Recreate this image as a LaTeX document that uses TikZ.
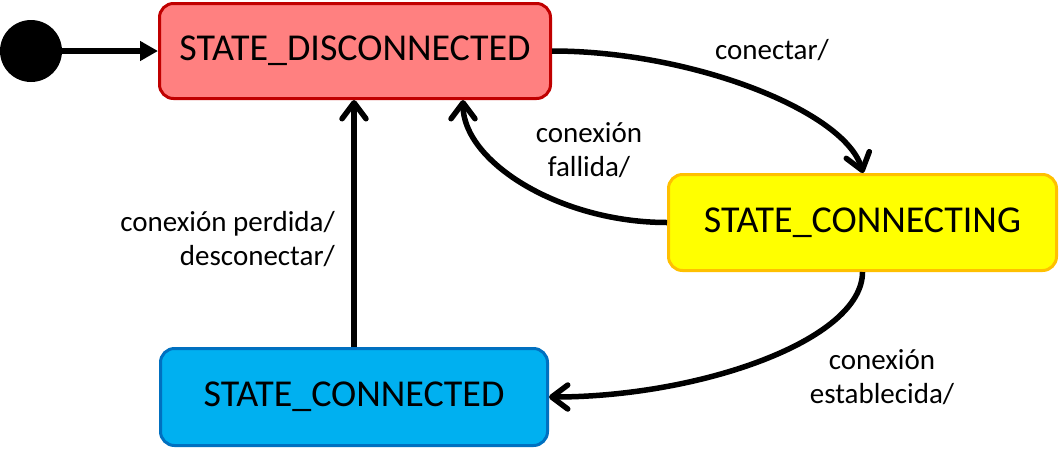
\documentclass[tikz,border=0pt]{standalone}
\usepackage{fontspec}
\setmainfont{Carlito}
\usetikzlibrary{arrows.meta}
\begin{document}
\begin{tikzpicture}[x=1pt,y=-1pt,
  statebox/.style={rectangle, rounded corners=14pt, line width=3pt, inner sep=0pt,
    font=\fontsize{38}{45}\selectfont},
  lbl/.style={font=\fontsize{29}{34}\selectfont, inner sep=0pt},
  trans/.style={line width=5.5pt, -{Straight Barb[length=16pt,width=24pt,round]}},
]
\useasboundingbox (0,0) rectangle (1060,448);
\node[circle, fill=black, minimum size=62pt, inner sep=0pt] (init) at (31,51) {};
\node[statebox, draw={rgb,255:red,192;green,0;blue,0}, fill={rgb,255:red,255;green,128;blue,128},
  minimum width=391pt, minimum height=95pt] (disc) at (355,51) {STATE\_DISCONNECTED};
\node[statebox, draw={rgb,255:red,255;green,192;blue,0}, fill={rgb,255:red,255;green,255;blue,0},
  minimum width=388pt, minimum height=96pt] (cing) at (862.5,222.5) {STATE\_CONNECTING};
\node[statebox, draw={rgb,255:red,0;green,112;blue,192}, fill={rgb,255:red,0;green,176;blue,240},
  minimum width=387pt, minimum height=97pt] (conn) at (354,397) {STATE\_CONNECTED};

\draw[line width=5.5pt, -{Triangle[length=18pt,width=19pt]}] (init.east) -- (disc.west);

\draw[trans] (disc.east) .. controls ++(140,0) and ++(-18,-62) .. ([xshift=0.5pt]cing.north);
\draw[trans] (cing.west) .. controls ++(-107,0) and ++(0,62) .. ([xshift=108pt]disc.south);
\draw[trans] (cing.south) .. controls ++(0,68) and ++(151,0) .. (conn.east);
\draw[trans] (conn.north) -- (conn.north |- disc.south);

\node[lbl] (l1) at (772,50) {conectar/};
\node[lbl, align=center] (l2) at (589,150) {conexión\\fallida/};
\node[lbl, align=right, anchor=east] (l3) at (335,239) {conexión perdida/\\desconectar/};
\node[lbl, align=center] (l4) at (882,377) {conexión\\establecida/};
\end{tikzpicture}
\end{document}
